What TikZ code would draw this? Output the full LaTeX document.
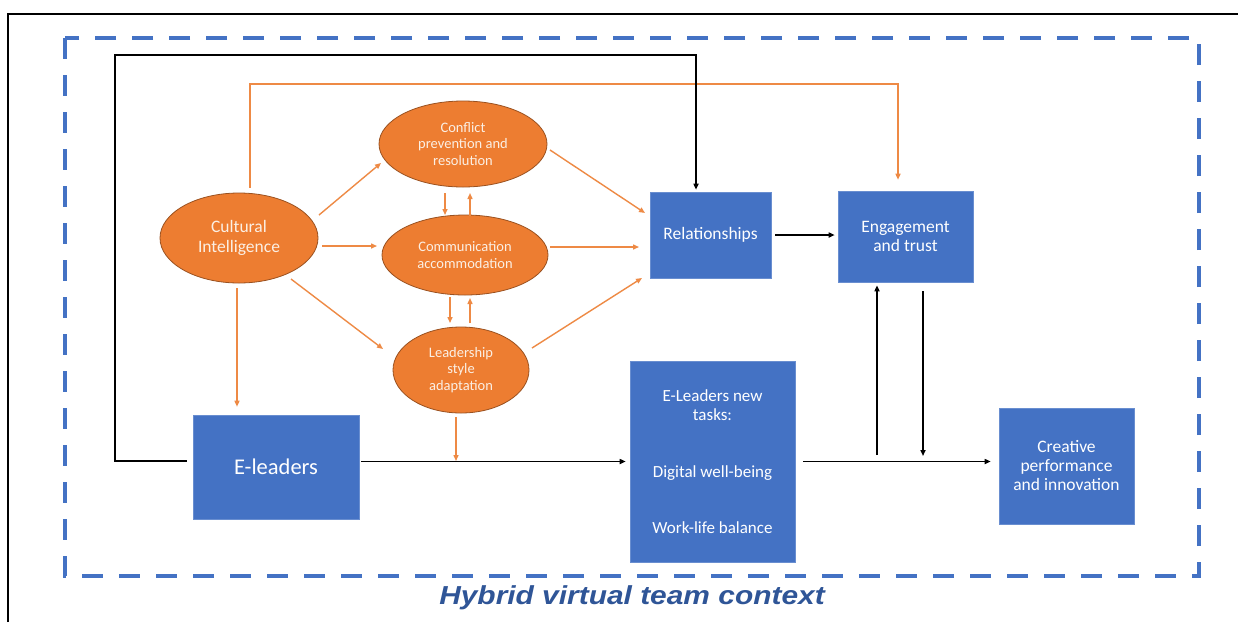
\documentclass[tikz,border=0pt]{standalone}
\usepackage{fontspec}
\setmainfont{Carlito}
\newfontfamily\titlefont{Liberation Sans}
\usetikzlibrary{shapes.geometric,arrows.meta}
\definecolor{eorange}{HTML}{ED7D31}
\definecolor{eblue}{HTML}{4472C4}
\definecolor{lineorange}{HTML}{EE8A45}
\definecolor{titleblue}{HTML}{2F5597}
\definecolor{txtcream}{HTML}{FBEFE4}
\begin{document}
\begin{tikzpicture}[x=1pt,y=-1pt,
  oval/.style={ellipse, fill=eorange, draw=eorange!65!black, line width=0.8pt, inner sep=0pt, text=txtcream, align=center},
  box/.style={rectangle, fill=eblue, draw=eblue!80!white, line width=0.6pt, inner sep=0pt, text=white, align=center},
  oarr/.style={draw=lineorange, line width=1.4pt, -{Triangle[length=6pt,width=5pt]}},
  barr/.style={draw=black, line width=1.5pt, -{Triangle[length=6pt,width=5pt]}},
]
\useasboundingbox (0,0) rectangle (1238,622);
\fill[white] (0,0) rectangle (1238,622);
% outer frame
\draw[line width=1.8pt] (8,622) -- (8,14) -- (1238,14);
% dashed context frame
\draw[eblue, line width=4.5pt, dash pattern=on 21pt off 16pt] (65,38) rectangle (1199,576);
\node[font=\titlefont\fontsize{26}{30}\selectfont\bfseries\itshape, text=titleblue, inner sep=0pt, xscale=1.15] (title) at (632,598) {Hybrid virtual team context};

% ellipses
\node[oval, minimum width=158pt, minimum height=90pt, font=\fontsize{17.5}{20}\selectfont] (ci) at (239,238) {Cultural\\Intelligence};
\node[oval, minimum width=168pt, minimum height=86pt, font=\fontsize{14.5}{16.5}\selectfont] (conf) at (463,144) {Conflict\\prevention and\\resolution};
\node[oval, minimum width=166pt, minimum height=80pt, font=\fontsize{14.5}{16.5}\selectfont] (comm) at (465,255) {Communication\\accommodation};
\node[oval, minimum width=136pt, minimum height=86pt, font=\fontsize{14.5}{16.5}\selectfont] (lead) at (461,370) {Leadership\\style\\adaptation};

% boxes
\node[box, minimum width=121pt, minimum height=86pt, font=\fontsize{17.5}{19}\selectfont] (rel) at (710.5,235) {Relationships};
\node[box, minimum width=135pt, minimum height=91pt, font=\fontsize{17.5}{19}\selectfont] (eng) at (905.5,236.5) {Engagement\\and trust};
\node[box, minimum width=166pt, minimum height=104pt, font=\fontsize{22.5}{24}\selectfont] (el) at (276,467) {E-leaders};
\node[box, minimum width=165pt, minimum height=201pt, font=\fontsize{17}{19}\selectfont] (tasks) at (712.5,461.5) {E-Leaders new\\tasks:\\[38pt]Digital well-being\\[37pt]Work-life balance};
\node[box, minimum width=135pt, minimum height=116pt, font=\fontsize{17.5}{19}\selectfont] (cre) at (1066.5,466) {Creative\\performance\\and innovation};

% helper coordinates
\coordinate (tl) at (115,55);
\coordinate (to) at (898,84);
\coordinate (lj) at (456,461);
\coordinate (ju) at (877,455);
\coordinate (jd) at (923,456);

% orange connectors
\draw[oarr] ([shift={(80,-23)}]ci.center) -- ([shift={(-82,19)}]conf.center);
\draw[oarr] ([shift={(83,8)}]ci.center) -- ([shift={(-88,-9)}]comm.center);
\draw[oarr] ([shift={(52,41)}]ci.center) -- ([shift={(-78,-21)}]lead.center);
\draw[oarr] ([shift={(-2,50)}]ci.center) -- ([shift={(-39,-8)}]el.north);
\draw[oarr] ([shift={(-18,49)}]conf.center) -- ([shift={(-20,-40)}]comm.center);
\draw[oarr] ([shift={(5,-39)}]comm.center) -- ([shift={(7,49)}]conf.center);
\draw[oarr] ([shift={(-15,42)}]comm.center) -- ([shift={(-11,-47)}]lead.center);
\draw[oarr] ([shift={(9,-47)}]lead.center) -- ([shift={(5,43)}]comm.center);
\draw[oarr] ([shift={(87,6)}]conf.center) -- ([shift={(-65.5,-22)}]rel.center);
\draw[oarr] ([shift={(85,-8)}]comm.center) -- ([shift={(-71.5,12)}]rel.center);
\draw[oarr] ([shift={(71,-22)}]lead.center) -- ([shift={(-68.5,43)}]rel.center);
\draw[oarr] ([shift={(11,-5)}]ci.north) |- (to) -- ([shift={(-7.5,-11)}]eng.north);
\draw[oarr, shorten <=4pt] (lead.south -| lj) -- (lj);

% black connectors
\draw[barr] ([shift={(-6,-6)}]el.west) -| (tl) -| ([shift={(-14.5,-2)}]rel.north);
\draw[barr, shorten <=2pt, shorten >=4pt] (el.east |- tasks.west) -- (tasks.west);
\draw[barr, shorten <=8pt, shorten >=8pt] (tasks.east) -- (tasks.east -| cre.west);
\draw[barr, shorten <=4pt, shorten >=3pt] (rel.east) -- (rel.east -| eng.west);
\draw[barr, shorten >=3pt] (ju) -- (ju |- eng.south);
\draw[barr, shorten <=9pt] (jd |- eng.south) -- (jd);
\end{tikzpicture}
\end{document}
